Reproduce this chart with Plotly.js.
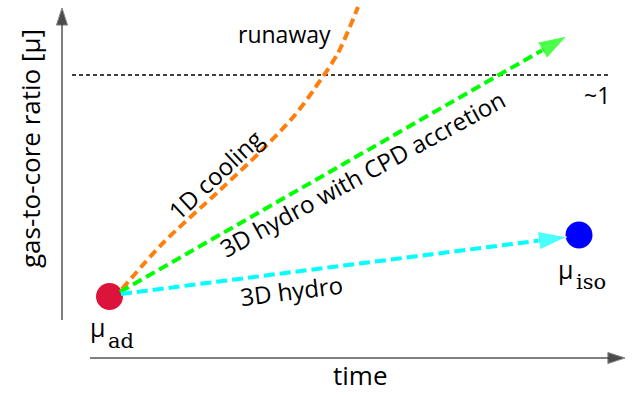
<!DOCTYPE html>
<html>
<head>
<meta charset="utf-8">
<script src="https://cdn.plot.ly/plotly-3.0.1.min.js"></script>
<style>html,body{margin:0;padding:0;background:#fff;}#chart{width:639px;height:395px;}</style>
</head>
<body>
<div id="chart"></div>
<script>
// Schematic coordinates: time (horizontal) and gas-to-core ratio mu (vertical), arbitrary units
const stateNames = ['μ', 'μ'];
const stateSubs = ['ad', 'iso'];
const stateTime = [109.5, 579];
const stateMu = [98.5, 160];
const stateColors = ['#DC143C', '#0000FF'];

const hydroTime = [121, 567];
const hydroMu = [101, 158];

const cpdTime = [120, 567];
const cpdMu = [103, 359];

const coolTime = [122, 163, 220, 260, 295, 315, 338, 358];
const coolMu = [106, 152, 205, 243, 280, 307, 342, 388];

const unityTime = [72, 610];
const unityMu = [320, 320];

const timeAxisT = [90, 625];
const timeAxisMu = [37, 37];
const muAxisT = [62, 62];
const muAxisMu = [75, 387];

const labels = ['runaway', '~1', '1D cooling', '3D hydro with CPD accretion', '3D hydro', 'time', 'gas-to-core ratio [μ]'];

const FONT = 'Open Sans, DejaVu Sans, sans-serif';
const SERIF = 'DejaVu Serif, serif';

const traces = [];
// axes with arrow heads
traces.push({x: muAxisT, y: muAxisMu, mode: 'lines+markers', line: {color: '#555', width: 1.5},
  marker: {symbol: 'arrow', angleref: 'previous', size: [0, 18], color: '#000'}, hoverinfo: 'skip'});
traces.push({x: timeAxisT, y: timeAxisMu, mode: 'lines+markers', line: {color: '#555', width: 1.5},
  marker: {symbol: 'arrow', angleref: 'previous', size: [0, 18], color: '#000'}, hoverinfo: 'skip'});
// unity line
traces.push({x: unityTime, y: unityMu, mode: 'lines', line: {color: '#000', width: 1.5, dash: '4px,3px'}, hoverinfo: 'skip'});
// states
traces.push({x: stateTime, y: stateMu, mode: 'markers', marker: {size: 27, color: stateColors}, hoverinfo: 'skip'});
// evolutionary paths
traces.push({x: coolTime, y: coolMu, mode: 'lines', line: {color: '#FF7F0E', width: 4, dash: '9px,5px', shape: 'spline', smoothing: 0.8}, hoverinfo: 'skip'});
traces.push({x: cpdTime, y: cpdMu, mode: 'lines+markers', line: {color: '#00FF00', width: 4, dash: '10px,5px'},
  marker: {symbol: 'arrow', angleref: 'previous', size: [0, 30], color: '#00FF00'}, hoverinfo: 'skip'});
traces.push({x: hydroTime, y: hydroMu, mode: 'lines+markers', line: {color: '#00FFFF', width: 4, dash: '11px,5px'},
  marker: {symbol: 'arrow', angleref: 'previous', size: [0, 30], color: '#00FFFF'}, hoverinfo: 'skip'});

function txt(x, y, text, size, angle, family, xanchor, yanchor) {
  return {x: x, y: y, xref: 'x', yref: 'y', text: text, showarrow: false, textangle: angle || 0,
    font: {family: family || FONT, size: size, color: '#000'},
    xanchor: xanchor || 'center', yanchor: yanchor || 'middle'};
}

const annotations = [
  txt(284, 361, labels[0], 23, 0),
  txt(597, 300, labels[1], 23, 0),
  txt(215, 221, labels[2], 24, -43),
  txt(362, 222, labels[3], 24, -28.5),
  txt(291, 105, labels[4], 24, -7),
  txt(360, 0.5, labels[5], 26, 0, null, 'center', 'bottom'),
  txt(30, 246, labels[6], 26, -90),
  txt(107, 68, stateNames[0], 25, 0, null, 'right'),
  txt(106, 54, stateSubs[0], 21, 0, SERIF, 'left'),
  txt(575, 126, stateNames[1], 25, 0, null, 'right'),
  txt(574, 113, stateSubs[1], 21, 0, SERIF, 'left')
];

const layout = {
  width: 639, height: 395,
  margin: {l: 0, r: 0, t: 0, b: 0},
  paper_bgcolor: '#fff', plot_bgcolor: '#fff',
  showlegend: false,
  xaxis: {range: [0, 639], visible: false, fixedrange: true},
  yaxis: {range: [0, 395], visible: false, fixedrange: true},
  annotations: annotations
};

Plotly.newPlot('chart', traces, layout, {staticPlot: true, displayModeBar: false});
</script>
</body>
</html>
